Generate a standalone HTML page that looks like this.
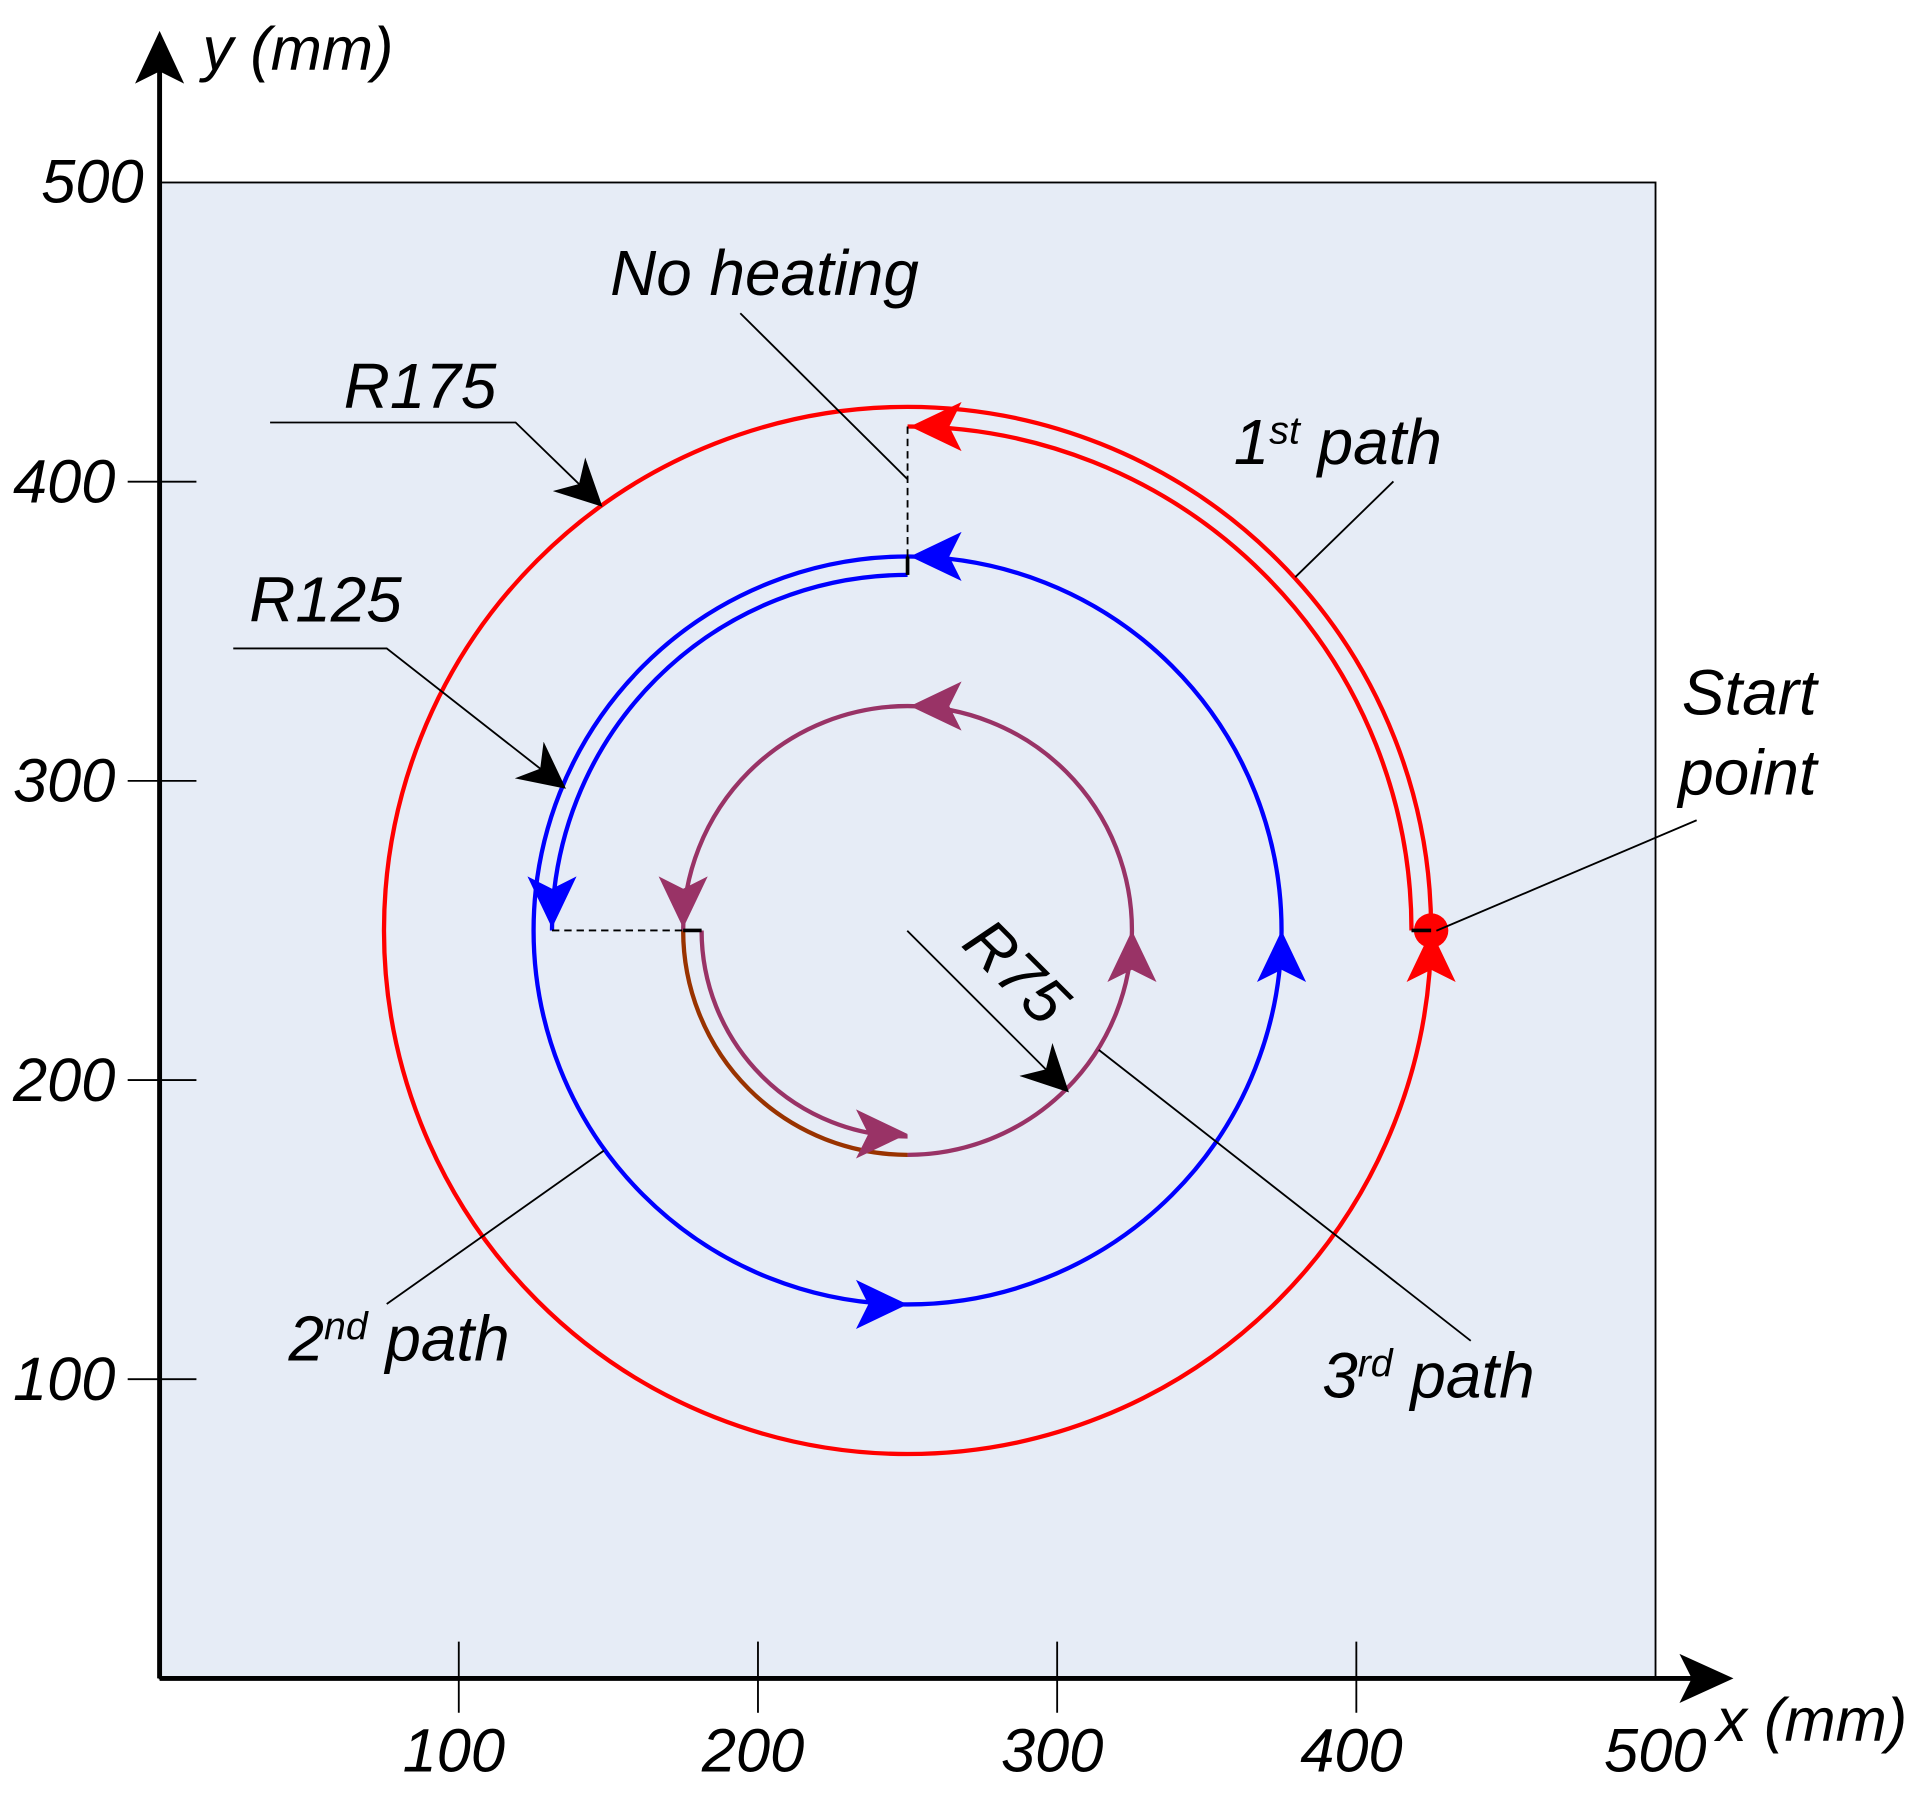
<!DOCTYPE html>
<html><head><meta charset="utf-8"><style>
html,body{margin:0;padding:0;background:#fff;}
svg{display:block;}
text{font-family:"Liberation Sans",sans-serif;font-style:italic;fill:#000;}
</style></head><body>
<svg width="1925" height="1794" viewBox="0 0 1568 1461" xmlns="http://www.w3.org/2000/svg">
<defs>
<marker id="ab" viewBox="0 0 10 10" refX="9" refY="5" markerWidth="38" markerHeight="38" orient="auto" markerUnits="userSpaceOnUse"><path d="M0,0 L10,5 L0,10 L3,5 z" fill="#000"/></marker>
</defs>
<g id="chart"></g>
</svg>
<script>
const xTicks=[100,200,300,400];
const yTicks=[100,200,300,400];
const center=[250,250];
const radii=[175,125,75];
const startPoint=[425,250];
const ns="http://www.w3.org/2000/svg";
const g=document.getElementById('chart');
const X0=130,Y0=1367,S=2.437;
const sx=v=>X0+v*S, sy=v=>Y0-v*S;
function el(t,a,p){const e=document.createElementNS(ns,t);for(const k in a)e.setAttribute(k,a[k]);(p||g).appendChild(e);return e;}
function txt(x,y,s,size,name,extra){const t=el('text',Object.assign({x:x,y:y,'font-size':size},extra||{}));t.innerHTML=s;


return t;}
let r=el('rect',{x:sx(0),y:sy(500),width:500*S,height:500*S,fill:'#e6ecf6',stroke:'#000','stroke-width':1.5});


let ax=el('path',{d:`M${sx(0)},${sy(0)}V45 M${sx(0)},${sy(0)}H1390`,stroke:'#000','stroke-width':4,fill:'none'});


el('path',{d:`M${sx(0)},25 L${sx(0)-20},68 L${sx(0)},58 L${sx(0)+20},68 z`,fill:'#000'});
el('path',{d:`M1412,${sy(0)} L1368,${sy(0)-20} L1378,${sy(0)} L1368,${sy(0)+20} z`,fill:'#000'});
xTicks.forEach(v=>{let l=el('line',{x1:sx(v),x2:sx(v),y1:sy(0)-30,y2:sy(0)+28,stroke:'#000','stroke-width':1.5});


txt(sx(v)-4,1443,v,50,'x-tick-label',{'text-anchor':'middle'});});
yTicks.forEach(v=>{let l=el('line',{x1:104,x2:160,y1:sy(v),y2:sy(v),stroke:'#000','stroke-width':1.5});


txt(94,sy(v)+17,v,50,'y-tick-label',{'text-anchor':'end'});});
txt(117,165,'500',50,'y-tick-500',{'text-anchor':'end'});
txt(1390,1443,'500',50,'x-tick-500',{'text-anchor':'end'});
txt(165,57,'y (mm)',50,'y-axis-title');
txt(1398,1418,'x (mm)',50,'x-axis-title');
const cx=sx(center[0]),cy=sy(center[1]);
function arc(R,a1,a2,col,name,w){
 const p=a=>[cx+R*Math.cos(a*Math.PI/180),cy-R*Math.sin(a*Math.PI/180)];
 const [x1,y1]=p(a1),[x2,y2]=p(a2);const large=Math.abs(a2-a1)>180?1:0;
 const e=el('path',{d:`M${x1},${y1} A${R},${R} 0 ${large} 0 ${x2},${y2}`,stroke:col,'stroke-width':w||3.5,fill:'none'});
 
 
}
function arrow(x,y,dir,col,name){const a={l:180,r:0,u:-90,d:90}[dir];
 const e=el('path',{d:'M22,0 L-20,-20 L-10,0 L-20,20 z',fill:col,transform:`translate(${x},${y}) rotate(${a})`});
 
 }
const R1=radii[0]*S,R2=radii[1]*S,R3=radii[2]*S;
const red='#ff0000',blue='#0000ff',pur='#993366',brn='#993300';
let c1=el('circle',{cx:cx,cy:cy,r:R1,stroke:red,'stroke-width':3.5,fill:'none'});


arc(R1-16,0,90,red,'path-1-inner-arc');
let c2=el('circle',{cx:cx,cy:cy,r:R2,stroke:blue,'stroke-width':3.5,fill:'none'});


arc(R2-15,90,180,blue,'path-2-inner-arc');
arc(R3,0,180,pur,'path-3-upper-arc');
arc(R3,270,360,pur,'path-3-lower-right-arc');
arc(R3,180,270,brn,'path-3-brown-arc');
arc(R3-15,180,270,pur,'path-3-inner-arc');
arrow(cx+24,cy-R1+16,'l',red,'arrow-1-top');
arrow(sx(startPoint[0]),cy+22,'u',red,'arrow-1-start');
arrow(cx+24,cy-R2,'l',blue,'arrow-2-top');
arrow(cx-R2+15,cy-24,'d',blue,'arrow-2-left');
arrow(cx-22,cy+R2,'r',blue,'arrow-2-bottom');
arrow(cx+R2,cy+22,'u',blue,'arrow-2-right');
arrow(cx+24,cy-R3,'l',pur,'arrow-3-top');
arrow(cx-R3,cy-24,'d',pur,'arrow-3-left');
arrow(cx-22,cy+R3-17,'r',pur,'arrow-3-bottom');
arrow(cx+R3,cy+22,'u',pur,'arrow-3-right');
let sp=el('circle',{cx:sx(startPoint[0]),cy:sy(startPoint[1]),r:14,fill:red});


el('path',{d:`M${cx},${cy-R1+16}V${cy-R2+15} M${cx-R2+15},${cy}H${cx-R3+15}`,stroke:'#000','stroke-width':1.5,'stroke-dasharray':'6,4',fill:'none'});
el('path',{d:`M${cx},${cy-R2}V${cy-R2+15} M${cx-R3},${cy}H${cx-R3+15} M${sx(startPoint[0])-16},${cy}H${sx(startPoint[0])}`,stroke:'#000','stroke-width':3,fill:'none'});
const L='stroke:#000;stroke-width:1.5;fill:none';
function lead(d,name,arr){const e=el('path',{d:d,style:L});if(arr)e.setAttribute('marker-end','url(#ab)');
 
 }
lead('M220,344H420L488,410','r175-leader',1);
lead('M190,528H315L458,640','r125-leader',1);
lead('M603,255L739,390','no-heating-leader');
lead('M1135,392L1055,470','path-1-leader');
lead('M1382,668L1170,758','start-point-leader');
lead('M739,758L868,887','r75-leader',1);
lead('M895,855L1198,1092','path-3-leader');
lead('M315,1062L492,937','path-2-leader');
txt(280,332,'R175',52,'r175-label');
txt(203,506,'R125',52,'r125-label');
txt(497,240,'No heating',52,'no-heating-label');
txt(1005,378,'1<tspan font-size="32" dy="-17">st</tspan><tspan dy="17"> path</tspan>',52,'path-1-label');
txt(1370,582,'Start',52,'start-label');
txt(1367,647,'point',52,'point-label');
txt(235,1108,'2<tspan font-size="32" dy="-17">nd</tspan><tspan dy="17"> path</tspan>',52,'path-2-label');
txt(1077,1138,'3<tspan font-size="32" dy="-17">rd</tspan><tspan dy="17"> path</tspan>',52,'path-3-label');
txt(0,0,'R75',52,'r75-label',{transform:'translate(782,770) rotate(45)'});
</script>
</body></html>
